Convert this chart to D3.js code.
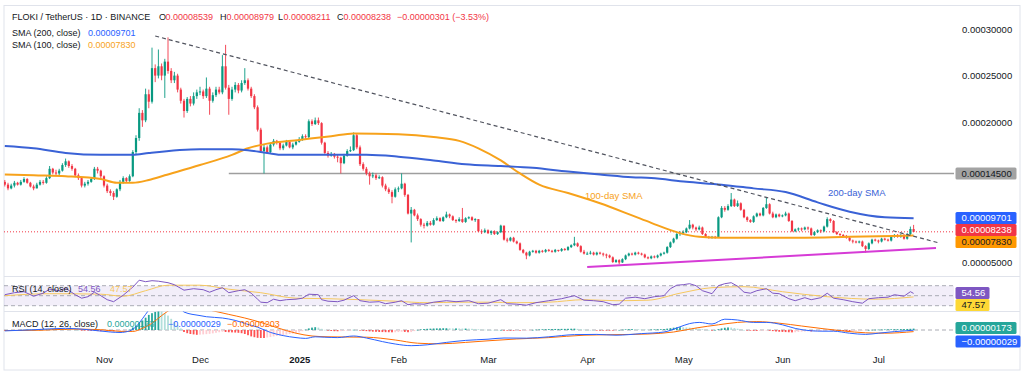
<!DOCTYPE html>
<html>
<head>
<meta charset="utf-8">
<script src="https://cdn.jsdelivr.net/npm/d3@7"></script>
<style>
  html, body { margin: 0; padding: 0; background: #fff; }
  #app { width: 1024px; height: 380px; }
  svg { display: block; font-family: "Liberation Sans", Arial, sans-serif; }
</style>
</head>
<body>
<div id="app"></div>
<script>
// prices in units of 0.00001 USDT, one [high, low, close] per day, open = previous close
const startDate = "2024-10-01";
const firstOpen = 13.6;
const oct = [[13.8,13.1,13.3],[13.5,12.7,12.9],[13.4,12.8,13.2],[13.7,13.0,13.5],[13.6,13.2,13.3],[13.8,13.2,13.6],[14.1,13.5,13.9],[14.0,13.4,13.5],[13.6,13.0,13.1],[13.3,12.7,12.9],[13.5,12.9,13.3],[13.8,13.2,13.6],[13.8,13.3,13.5],[14.2,13.4,14.0],[15.3,13.9,15.0],[15.1,14.4,14.6],[14.9,14.3,14.5],[15.0,14.3,14.8],[15.6,14.7,15.4],[16.1,15.2,15.8],[15.9,15.1,15.3],[15.5,14.8,15.0],[15.1,14.1,14.3],[14.5,13.8,14.0],[14.1,13.0,13.2],[13.6,13.0,13.4],[13.8,13.2,13.6],[14.1,13.5,13.9],[15.2,13.8,15.0],[15.2,14.5,14.8],[14.9,13.9,14.2]];
const nov = [[14.3,13.0,13.2],[13.4,12.4,12.6],[12.8,12.1,12.4],[12.6,11.65,12.0],[12.9,11.9,12.8],[13.8,12.6,13.6],[14.2,13.4,14.0],[14.1,13.5,13.7],[14.4,13.6,14.2],[17.0,14.1,16.8],[18.6,16.5,18.3],[21.5,18.0,21.0],[21.3,19.5,20.2],[23.6,20.0,23.0],[23.5,21.5,22.2],[28.0,22.0,25.8],[26.2,24.3,25.0],[27.8,24.7,26.0],[26.3,24.5,25.0],[26.8,22.6,26.5],[29.1,25.2,25.5],[25.8,24.2,24.5],[25.4,24.2,25.0],[25.2,23.2,23.5],[23.7,22.0,22.3],[22.5,20.5,21.2],[22.7,21.0,22.5],[22.8,21.7,22.0],[23.2,21.8,22.8],[23.5,22.5,23.2]];
const dec = [[23.8,22.9,23.3],[23.5,22.5,22.8],[24.8,22.6,23.6],[23.8,20.8,22.3],[23.2,22.1,22.9],[23.8,22.7,23.5],[23.8,23.0,23.2],[27.2,23.0,26.0],[28.3,23.5,23.7],[24.0,20.8,22.5],[23.8,22.3,23.5],[24.3,23.2,24.0],[24.2,23.1,23.4],[24.5,23.2,24.2],[25.8,24.0,24.5],[24.7,23.4,23.6],[23.8,22.6,22.8],[23.0,21.4,21.6],[21.8,19.0,19.2],[19.4,16.7,16.9],[17.6,14.5,17.3],[17.5,16.6,16.8],[17.8,16.7,17.6],[18.2,17.4,18.0],[18.1,17.6,17.8],[17.9,17.0,17.2],[17.7,17.0,17.5],[18.1,17.4,17.9],[18.0,17.2,17.3],[17.8,17.1,17.6],[18.1,17.5,17.9]];
const jan = [[18.4,17.8,18.2],[18.7,18.0,18.5],[18.7,18.1,18.4],[20.3,18.3,20.1],[20.3,19.6,19.8],[20.5,19.7,20.2],[20.5,19.7,19.9],[20.0,17.6,17.8],[17.9,16.6,16.7],[16.9,16.2,16.4],[16.8,16.3,16.6],[16.7,16.1,16.3],[16.5,15.7,16.2],[16.3,14.5,15.6],[16.6,15.5,16.4],[17.1,16.3,16.9],[17.4,16.8,17.0],[18.9,16.9,18.6],[18.8,17.1,17.3],[17.5,15.3,15.5],[15.7,14.8,15.0],[15.2,14.3,14.5],[14.7,13.3,14.2],[14.6,14.0,14.3],[14.5,13.8,14.0],[14.3,13.9,14.1],[14.2,13.0,13.2],[13.4,12.6,12.8],[13.0,12.3,12.5],[12.7,11.3,12.0],[13.0,11.9,12.8]];
const feb = [[13.1,12.5,12.9],[14.5,12.8,13.4],[13.5,12.0,12.2],[12.3,10.1,10.2],[10.9,7.1,10.6],[10.7,9.9,10.0],[10.2,9.4,9.6],[9.7,8.8,9.0],[9.2,8.6,8.9],[9.4,8.8,9.2],[9.4,8.9,9.0],[9.7,8.9,9.5],[9.9,9.4,9.7],[9.8,9.3,9.4],[9.9,9.3,9.8],[10.4,9.7,10.1],[10.2,9.7,9.9],[10.0,9.4,9.5],[9.6,9.2,9.4],[9.8,9.3,9.6],[10.8,9.2,9.3],[9.8,9.2,9.7],[9.9,9.6,9.8],[9.9,9.4,9.5],[9.7,9.3,9.6],[9.6,8.2,8.3],[8.5,8.0,8.2],[8.6,8.1,8.4]];
const mar = [[8.5,8.0,8.1],[8.4,7.9,8.3],[8.4,7.9,8.0],[8.3,7.9,8.2],[9.0,8.1,8.9],[8.9,7.3,7.4],[7.6,7.1,7.3],[7.7,7.2,7.6],[7.7,7.1,7.2],[7.3,6.9,7.0],[7.1,6.2,6.3],[6.4,5.9,6.0],[6.1,5.3,5.7],[6.2,5.6,6.1],[6.3,6.0,6.2],[6.3,5.9,6.0],[6.3,5.9,6.2],[6.3,6.0,6.1],[6.4,6.0,6.3],[6.4,6.1,6.2],[6.3,6.0,6.1],[6.4,6.0,6.3],[6.3,6.1,6.2],[6.5,6.1,6.4],[6.5,6.2,6.3],[6.7,6.2,6.6],[6.9,6.5,6.8],[7.7,6.7,7.0],[7.1,6.6,6.7],[6.8,6.0,6.1],[6.3,5.8,5.9]];
const apr = [[6.1,5.8,5.9],[6.2,5.8,6.0],[6.1,5.7,5.8],[6.1,5.7,6.0],[6.1,5.8,5.9],[6.0,5.6,5.8],[5.9,5.4,5.7],[5.8,5.4,5.5],[5.6,4.9,5.0],[5.3,4.9,5.2],[5.3,4.75,4.95],[5.4,4.9,5.3],[5.8,5.2,5.7],[6.0,5.6,5.9],[6.0,5.7,5.8],[6.1,5.7,6.0],[6.1,5.8,5.9],[6.0,5.7,5.8],[5.9,5.4,5.5],[5.6,5.3,5.4],[5.7,5.3,5.6],[5.7,5.4,5.5],[5.8,5.4,5.7],[6.0,5.6,5.9],[6.1,5.8,6.0],[6.7,5.9,6.6],[7.2,6.5,7.1],[7.6,7.0,7.5],[8.1,7.4,8.0],[8.3,7.8,8.1]];
const may = [[8.4,7.9,8.2],[8.7,8.1,8.6],[9.5,8.5,9.0],[9.1,8.5,8.7],[8.8,8.3,8.5],[8.9,8.4,8.7],[8.8,7.9,8.0],[8.1,7.6,7.7],[7.8,7.5,7.6],[7.8,7.5,7.7],[7.8,7.5,7.6],[9.9,7.6,9.8],[11.0,9.7,10.8],[11.0,10.4,10.6],[11.2,10.5,11.0],[12.4,10.9,11.7],[11.8,10.9,11.0],[11.6,10.9,11.3],[11.4,10.5,10.6],[10.7,9.7,9.8],[9.9,9.3,9.5],[9.6,9.2,9.3],[10.0,9.2,9.9],[10.3,9.8,10.2],[10.3,9.9,10.0],[10.9,9.9,10.8],[11.9,10.7,11.2],[11.3,10.1,10.2],[10.4,9.7,9.8],[10.2,9.7,10.1],[10.2,9.8,9.9]];
const jun = [[10.1,9.8,10.0],[10.4,9.9,10.2],[10.3,9.3,9.4],[9.5,8.2,8.3],[8.6,8.2,8.5],[8.7,8.3,8.6],[8.7,8.3,8.5],[8.8,8.4,8.7],[8.8,8.4,8.6],[8.7,7.8,7.9],[8.3,7.8,8.2],[8.5,8.1,8.4],[8.5,8.1,8.3],[8.9,8.2,8.8],[9.8,8.7,9.6],[9.7,9.2,9.4],[9.5,8.1,8.2],[8.3,7.9,8.0],[8.1,7.8,7.9],[8.0,7.7,7.8],[7.9,7.5,7.6],[7.7,7.2,7.3],[7.4,7.0,7.2],[7.3,7.0,7.1],[7.3,7.0,7.2],[7.3,6.6,6.7],[6.8,6.0,6.4],[7.1,6.3,7.0],[7.5,6.9,7.4],[7.5,7.2,7.3]];
const jul = [[7.4,7.0,7.2],[7.6,7.1,7.5],[7.6,7.3,7.4],[7.5,7.2,7.3],[7.8,7.2,7.7],[8.0,7.6,7.9],[8.0,7.6,7.7],[8.0,7.6,7.9],[8.0,7.4,7.5],[8.1,7.4,8.0],[8.8,7.9,8.539],[8.979,8.211,8.238]];

// moving averages, same units
const sma200 = [["2024-10-01",17.45],["2024-10-10",17.2],["2024-10-20",16.7],["2024-10-31",16.5],["2024-11-10",16.5],["2024-11-15",16.7],["2024-12-01",17.1],["2024-12-11",17.1],["2024-12-16",17.0],["2024-12-22",16.7],["2024-12-27",16.5],["2025-01-22",16.5],["2025-02-01",16.3],["2025-02-12",15.9],["2025-02-22",15.5],["2025-03-05",15.3],["2025-03-15",15.1],["2025-03-26",14.7],["2025-04-05",14.4],["2025-04-15",14.1],["2025-04-21",14.0],["2025-05-02",13.6],["2025-05-13",13.3],["2025-05-23",12.9],["2025-06-02",12.5],["2025-06-12",11.4],["2025-06-22",10.4],["2025-07-03",9.8],["2025-07-12",9.701]];
const sma100 = [["2024-10-01",14.4],["2024-10-10",14.3],["2024-10-20",14.2],["2024-10-31",13.9],["2024-11-05",13.5],["2024-11-10",13.5],["2024-11-15",13.8],["2024-11-20",14.3],["2024-12-01",15.4],["2024-12-11",16.5],["2024-12-16",17.2],["2024-12-22",17.7],["2025-01-01",18.1],["2025-01-11",18.5],["2025-01-18",18.8],["2025-02-01",18.7],["2025-02-12",18.4],["2025-02-20",18.0],["2025-02-26",17.2],["2025-03-05",15.9],["2025-03-11",14.5],["2025-03-17",13.3],["2025-03-26",12.4],["2025-04-05",11.3],["2025-04-15",10.0],["2025-04-21",9.2],["2025-04-30",8.1],["2025-05-06",7.7],["2025-05-13",7.6],["2025-06-02",7.6],["2025-06-22",7.7],["2025-07-12",7.83]];

// drawn levels
const resistance = [["2024-11-17",29.25],["2025-07-20",7.04]];
const support = [["2025-04-01",4.46],["2025-07-19",6.5]];
const hLevel = {from: "2024-12-10", value: 14.5};
const lastPrice = 8.238;

// RSI (14) and its moving average
const rsi = [["2024-10-01",52],["2024-10-04",56],["2024-10-07",58],["2024-10-10",49],["2024-10-13",55],["2024-10-15",63],["2024-10-18",60],["2024-10-20",65],["2024-10-23",52],["2024-10-25",45],["2024-10-27",48],["2024-10-29",57],["2024-10-31",50],["2024-11-02",42],["2024-11-04",38],["2024-11-07",51],["2024-11-10",67],["2024-11-12",81],["2024-11-14",78],["2024-11-16",80],["2024-11-18",79],["2024-11-21",76],["2024-11-23",72],["2024-11-26",61],["2024-11-29",64],["2024-12-02",62],["2024-12-04",57],["2024-12-06",62],["2024-12-08",66],["2024-12-10",56],["2024-12-13",60],["2024-12-15",62],["2024-12-17",55],["2024-12-19",43],["2024-12-20",37],["2024-12-22",36],["2024-12-24",43],["2024-12-26",40],["2024-12-28",42],["2024-12-31",43],["2025-01-02",45],["2025-01-04",53],["2025-01-07",52],["2025-01-08",42],["2025-01-10",39],["2025-01-13",38],["2025-01-15",41],["2025-01-18",50],["2025-01-20",40],["2025-01-23",37],["2025-01-26",38],["2025-01-28",34],["2025-01-31",37],["2025-02-02",40],["2025-02-04",32],["2025-02-06",34],["2025-02-09",33],["2025-02-12",37],["2025-02-16",40],["2025-02-19",38],["2025-02-23",40],["2025-02-26",34],["2025-03-01",35],["2025-03-05",42],["2025-03-07",34],["2025-03-10",33],["2025-03-13",31],["2025-03-16",36],["2025-03-20",40],["2025-03-24",44],["2025-03-28",50],["2025-03-31",41],["2025-04-03",40],["2025-04-06",38],["2025-04-09",32],["2025-04-11",33],["2025-04-13",45],["2025-04-16",47],["2025-04-19",44],["2025-04-22",48],["2025-04-25",50],["2025-04-27",64],["2025-04-29",71],["2025-05-01",72],["2025-05-03",74],["2025-05-05",70],["2025-05-07",60],["2025-05-10",54],["2025-05-12",70],["2025-05-14",74],["2025-05-16",76],["2025-05-18",69],["2025-05-20",57],["2025-05-22",55],["2025-05-24",60],["2025-05-27",64],["2025-05-29",55],["2025-05-31",54],["2025-06-03",44],["2025-06-05",40],["2025-06-08",46],["2025-06-10",42],["2025-06-13",46],["2025-06-15",55],["2025-06-17",45],["2025-06-20",42],["2025-06-23",38],["2025-06-26",35],["2025-06-28",44],["2025-07-01",46],["2025-07-04",47],["2025-07-06",52],["2025-07-09",49],["2025-07-11",58],["2025-07-12",54.56]];
const rsiMa = [["2024-10-01",50],["2024-10-15",54],["2024-10-31",53],["2024-11-07",49],["2024-11-14",60],["2024-11-21",71],["2024-12-01",71],["2024-12-10",63],["2024-12-20",56],["2024-12-31",45],["2025-01-10",44],["2025-01-20",42],["2025-01-31",39],["2025-02-10",36],["2025-02-20",37],["2025-03-01",37],["2025-03-10",36],["2025-03-20",37],["2025-03-31",42],["2025-04-10",40],["2025-04-20",41],["2025-04-30",55],["2025-05-10",66],["2025-05-20",68],["2025-06-01",58],["2025-06-15",48],["2025-06-30",43],["2025-07-12",47.57]];

// MACD (12, 26) in units of 0.000001
const macdLine = [["2024-10-01",-1.1],["2024-10-10",0.3],["2024-10-20",2.1],["2024-10-27",0.4],["2024-11-03",-2.5],["2024-11-06",-3.1],["2024-11-09",-1.1],["2024-11-11",4.2],["2024-11-13",14],["2024-11-15",25],["2024-11-18",39],["2024-11-21",46],["2024-11-24",34],["2024-11-26",22.5],["2024-12-01",18],["2024-12-03",16.6],["2024-12-08",15],["2024-12-12",12],["2024-12-16",7],["2024-12-19",3.5],["2024-12-23",-3],["2024-12-27",-7],["2024-12-31",-9.5],["2025-01-03",-10.5],["2025-01-06",-8.5],["2025-01-09",-9],["2025-01-13",-9.5],["2025-01-18",-7.5],["2025-01-22",-10],["2025-01-27",-14.5],["2025-01-31",-17.5],["2025-02-05",-19.6],["2025-02-10",-18.5],["2025-02-16",-15.5],["2025-02-22",-13],["2025-03-01",-11.5],["2025-03-06",-10],["2025-03-13",-10.2],["2025-03-20",-8.5],["2025-03-28",-5.8],["2025-04-04",-5.5],["2025-04-10",-6.5],["2025-04-18",-4.5],["2025-04-25",-2.5],["2025-04-30",4],["2025-05-03",8],["2025-05-06",9.5],["2025-05-10",7.5],["2025-05-14",13.5],["2025-05-18",12.5],["2025-05-23",9.5],["2025-05-27",9.5],["2025-06-01",6.5],["2025-06-05",2],["2025-06-10",-1],["2025-06-14",-1.5],["2025-06-17",-1.5],["2025-06-22",-4],["2025-06-27",-5.5],["2025-07-01",-4],["2025-07-06",-2],["2025-07-12",-0.29]];
const signalLine = [["2024-10-01",-0.7],["2024-10-12",-0.3],["2024-10-22",1.1],["2024-10-31",0.4],["2024-11-06",-1.7],["2024-11-10",-1.8],["2024-11-13",2.1],["2024-11-16",8.4],["2024-11-19",18],["2024-11-23",28],["2024-11-27",31],["2024-12-01",28],["2024-12-05",24],["2024-12-10",19.5],["2024-12-15",15],["2024-12-20",9.5],["2024-12-25",3],["2024-12-31",-4],["2025-01-05",-7.5],["2025-01-10",-8.5],["2025-01-16",-8.8],["2025-01-22",-9],["2025-01-31",-12.5],["2025-02-07",-16.5],["2025-02-14",-17.3],["2025-02-22",-15.5],["2025-03-01",-13.5],["2025-03-10",-11.2],["2025-03-20",-9.5],["2025-03-31",-6.5],["2025-04-10",-5.8],["2025-04-20",-5],["2025-04-28",-2.5],["2025-05-05",2.5],["2025-05-12",6.5],["2025-05-18",9.5],["2025-05-24",10.5],["2025-05-31",8.5],["2025-06-07",5],["2025-06-14",1.5],["2025-06-20",-1.2],["2025-06-27",-3.5],["2025-07-03",-4],["2025-07-12",-2.03]];
const histOct = [-0.4,-0.3,-0.3,-0.1,0,0.1,0.3,0.4,0.5,0.6,0.6,0.7,0.8,0.8,0.9,1.0,1.0,1.0,1.0,1.1,0.8,0.6,0.3,0,-0.3,-0.6,-0.7,-1.0,-1.1,-1.4,-1.5];
const histNov = [-1.1,-1.4,-1.7,-1.7,-1.5,-1.4,-0.8,-0.1,0.6,3.2,5.3,8.7,11.9,15.4,18.9,21,22.7,24.4,23.8,21,18,14,10,6,2,-2.5,-4,-5,-5.5,-6];
const histDec = [-5.8,-5.5,-5.2,-4.8,-4.2,-3.5,-2.8,-2.2,-2.5,-2.8,-3,-3.2,-3.5,-4,-5,-6.5,-8,-9,-9.8,-10,-10,-9.4,-8.8,-8,-7.4,-6.8,-6.2,-5.6,-5,-4.5,-4];
const histJan = [-3,-1.5,0.5,2,3,3.5,3,1.5,0.2,-0.8,-1.2,-1.5,-1.6,-1.4,-1,-0.6,-0.2,0.3,0,-0.6,-1,-1.4,-1.8,-2.1,-2.3,-2.5,-2.6,-2.7,-2.8,-2.9,-2.8];
const histFeb = [-2.6,-2.2,-2.4,-2.8,-2.6,-1.4,0.2,0.8,1.2,1.5,1.7,1.9,2.0,2.1,2.2,2.2,2.1,2.0,2.0,1.9,1.8,1.8,1.7,1.5,1.3,0.9,0.6,0.4];
const histMar = [0.3,0.2,0.1,0,0.1,-0.6,-0.8,-0.9,-0.9,-0.8,-0.8,-0.7,-0.5,-0.2,0.2,0.5,0.7,0.9,1.0,1.1,1.2,1.3,1.3,1.4,1.4,1.5,1.6,1.7,1.4,0.9,0.5];
const histApr = [0.3,0.1,0,-0.1,-0.2,-0.3,-0.4,-0.5,-0.6,-0.4,0.1,0.5,0.8,1.0,1.1,1.0,0.9,0.8,0.7,0.6,0.7,0.8,0.9,1.0,1.2,1.7,2.3,2.9,3.3,3.5];
const histMay = [3.4,3.2,3.0,2.6,2.1,1.6,1.0,0.5,0.1,-0.2,0.1,1.0,2.0,2.8,3.2,3.0,2.4,1.6,0.8,0,-0.5,-0.8,-1.0,-1.1,-0.9,-0.7,-0.6,-0.9,-1.4,-1.9,-2.2];
const histJun = [-2.4,-2.6,-2.8,-3.0,-2.8,-2.4,-2.1,-1.9,-1.7,-1.8,-1.7,-1.5,-1.3,-1.0,-0.6,-0.5,-0.7,-0.9,-1.1,-1.2,-1.3,-1.4,-1.3,-1.1,-0.8,-0.5,-0.2,0.1,0.3,0.4];
const histJul = [0.5,0.6,0.7,0.8,0.9,1.0,1.0,1.1,1.2,1.3,1.5,1.73];

// visible price scale labels (0.0001 and 0.00015 sit under the value tags)
const priceTicks = [5, 20, 25, 30];
const monthTicks = ["2024-11-01","2024-12-01","2025-01-01","2025-02-01","2025-03-01","2025-04-01","2025-05-01","2025-06-01","2025-07-01"];


function drawChart(targetDiv) {
  const width = 1024, height = 380;
  const left = 4, right = 954;
  const up = "#089981", down = "#f23645";
  const ink = "#131722";
  const parse = d3.utcParse("%Y-%m-%d");
  const pts = arr => arr.map(([d, v]) => ({date: parse(d), v}));

  const svg = d3.create("svg")
    .attr("width", width)
    .attr("height", height)
    .attr("viewBox", [0, 0, width, height]);

  // candles, opens follow previous close
  const start = parse(startDate);
  let prev = firstOpen;
  const candles = [oct, nov, dec, jan, feb, mar, apr, may, jun, jul].flat().map(([h, l, c], i) => {
    const d = {date: d3.utcDay.offset(start, i), o: prev, h, l, c};
    prev = c;
    return d;
  });
  const hist = [histOct, histNov, histDec, histJan, histFeb, histMar, histApr, histMay, histJun, histJul]
    .flat().map((v, i) => ({date: d3.utcDay.offset(start, i), v}));

  const x = d3.scaleUtc()
    .domain([parse("2024-11-01"), parse("2025-07-01")])
    .range([104, 878.4]);
  const y = d3.scaleLinear().domain([5, 30]).range([262, 29]);
  const yRsi = d3.scaleLinear().domain([30, 70]).range([305.7, 285.7]);
  const yMacd = d3.scaleLinear().domain([0, 10]).range([330, 322]);

  // panes
  const panes = {main: [6, 276.5], rsi: [276.5, 311.5], macd: [311.5, 352]};
  const defs = svg.append("defs");
  Object.entries(panes).forEach(([k, [t, b]]) => {
    defs.append("clipPath").attr("id", "clip-" + k)
      .append("rect").attr("x", left).attr("y", t).attr("width", right - left).attr("height", b - t);
  });

  svg.append("rect").attr("x", left).attr("y", 5.5).attr("width", 1016).attr("height", 364.5)
    .attr("fill", "#fff").attr("stroke", "#e0e3eb");
  [276.5, 311.5].forEach(v => svg.append("line")
    .attr("x1", left).attr("x2", 1020).attr("y1", v).attr("y2", v).attr("stroke", "#e0e3eb"));

  // ---- main pane
  const main = svg.append("g").attr("clip-path", "url(#clip-main)");

  main.append("line")
    .attr("x1", left).attr("x2", right)
    .attr("y1", y(lastPrice)).attr("y2", y(lastPrice))
    .attr("stroke", down).attr("stroke-dasharray", "1,2");

  main.append("line")
    .attr("x1", x(parse(hLevel.from))).attr("x2", right)
    .attr("y1", y(hLevel.value)).attr("y2", y(hLevel.value))
    .attr("stroke", "#9e9e9e").attr("stroke-width", 1.5);

  main.selectAll("line.wick").data(candles).join("line")
    .attr("class", "wick")
    .attr("x1", d => x(d.date)).attr("x2", d => x(d.date))
    .attr("y1", d => y(Math.max(d.h, d.o, d.c))).attr("y2", d => y(Math.min(d.l, d.o, d.c)))
    .attr("stroke", d => d.c >= d.o ? up : down)
    .attr("stroke-width", 0.9);

  main.selectAll("rect.body").data(candles).join("rect")
    .attr("class", "body")
    .attr("x", d => x(d.date) - 1.1)
    .attr("width", 2.2)
    .attr("y", d => y(Math.max(d.o, d.c)))
    .attr("height", d => Math.max(1, Math.abs(y(d.o) - y(d.c))))
    .attr("fill", d => d.c >= d.o ? up : down);

  const line = d3.line().x(d => x(d.date)).y(d => y(d.v)).curve(d3.curveMonotoneX);
  main.append("path").attr("d", line(pts(sma100)))
    .attr("fill", "none").attr("stroke", "#f7a21b").attr("stroke-width", 2);
  main.append("path").attr("d", line(pts(sma200)))
    .attr("fill", "none").attr("stroke", "#3a62d6").attr("stroke-width", 2);

  const straight = d3.line().x(d => x(d.date)).y(d => y(d.v));
  main.append("path").attr("d", straight(pts(resistance)))
    .attr("fill", "none").attr("stroke", "#50535e").attr("stroke-width", 1.2)
    .attr("stroke-dasharray", "4,3");
  main.append("path").attr("d", straight(pts(support)))
    .attr("fill", "none").attr("stroke", "#d63bd6").attr("stroke-width", 2);

  main.append("text").attr("x", 585).attr("y", 199)
    .attr("font-size", 9.5).attr("fill", "#f7a21b").text("100-day SMA");
  main.append("text").attr("x", 828).attr("y", 196)
    .attr("font-size", 9.5).attr("fill", "#3a62d6").text("200-day SMA");

  // ---- RSI pane
  const rp = svg.append("g").attr("clip-path", "url(#clip-rsi)");
  rp.append("rect")
    .attr("x", left).attr("width", right - left)
    .attr("y", yRsi(70)).attr("height", yRsi(30) - yRsi(70))
    .attr("fill", "rgba(126,87,194,0.1)");
  [70, 50, 30].forEach(v => rp.append("line")
    .attr("x1", left).attr("x2", right).attr("y1", yRsi(v)).attr("y2", yRsi(v))
    .attr("stroke", "#9598a1").attr("stroke-dasharray", "4,3").attr("stroke-width", 0.8));
  const rsiPath = d3.line().x(d => x(d.date)).y(d => yRsi(d.v));
  rp.append("path").attr("d", rsiPath.curve(d3.curveMonotoneX)(pts(rsiMa)))
    .attr("fill", "none").attr("stroke", "#f6c85f").attr("stroke-width", 1);
  rp.append("path").attr("d", rsiPath.curve(d3.curveLinear)(pts(rsi)))
    .attr("fill", "none").attr("stroke", "#7e57c2").attr("stroke-width", 1);

  // ---- MACD pane
  const mp = svg.append("g").attr("clip-path", "url(#clip-macd)");
  mp.append("line")
    .attr("x1", left).attr("x2", right).attr("y1", yMacd(0)).attr("y2", yMacd(0))
    .attr("stroke", "#9598a1").attr("stroke-dasharray", "4,3").attr("stroke-width", 0.8);
  mp.selectAll("rect.bar").data(hist).join("rect")
    .attr("class", "bar")
    .attr("x", d => x(d.date) - 0.9)
    .attr("width", 1.8)
    .attr("y", d => Math.min(yMacd(d.v), yMacd(0)))
    .attr("height", d => Math.max(0.6, Math.abs(yMacd(d.v) - yMacd(0))))
    .attr("fill", (d, i) => {
      const p = i > 0 ? hist[i - 1].v : d.v;
      if (d.v >= 0) return d.v >= p ? "#26a69a" : "#b2dfdb";
      return d.v <= p ? "#ff5252" : "#ffcdd2";
    });
  const macdPath = d3.line().x(d => x(d.date)).y(d => yMacd(d.v)).curve(d3.curveMonotoneX);
  mp.append("path").attr("d", macdPath(pts(signalLine)))
    .attr("fill", "none").attr("stroke", "#ff6d00").attr("stroke-width", 1);
  mp.append("path").attr("d", macdPath(pts(macdLine)))
    .attr("fill", "none").attr("stroke", "#2962ff").attr("stroke-width", 1);

  // ---- time axis
  const xAxis = svg.append("g")
    .attr("transform", "translate(0,352)")
    .call(d3.axisBottom(x)
      .tickValues(monthTicks.map(parse))
      .tickSize(0).tickPadding(4)
      .tickFormat(d => d.getUTCMonth() === 0 ? d.getUTCFullYear() : d3.utcFormat("%b")(d)));
  xAxis.select(".domain").remove();
  xAxis.selectAll("text")
    .attr("font-size", 9.5).attr("fill", ink).attr("font-family", "Liberation Sans, Arial, sans-serif")
    .attr("font-weight", d => d.getUTCMonth() === 0 ? "bold" : null);

  // ---- price axis
  const yAxis = svg.append("g")
    .attr("transform", "translate(962,0)")
    .call(d3.axisRight(y).tickValues(priceTicks).tickSize(0).tickPadding(0)
      .tickFormat(v => (v / 1e5).toFixed(8)));
  yAxis.select(".domain").remove();
  yAxis.selectAll("text").attr("font-size", 9.5).attr("fill", ink)
    .attr("font-family", "Liberation Sans, Arial, sans-serif");

  function tag(cy, txt, bg, fg, w) {
    svg.append("rect").attr("x", 955.5).attr("y", cy - 6).attr("width", w).attr("height", 12)
      .attr("rx", 1.5).attr("fill", bg);
    svg.append("text").attr("x", 961.5).attr("y", cy).attr("dy", "0.35em")
      .attr("font-size", 9.5).attr("fill", fg).text(txt);
  }
  tag(y(hLevel.value), "0.00014500", "#a3a3a3", ink, 61);
  tag(218, "0.00009701", "#2962ff", "#fff", 61);
  tag(230, "0.00008238", down, "#fff", 61);
  tag(242, "0.00007830", "#ff9800", ink, 61);
  tag(293, "54.56", "#7e57c2", "#fff", 34);
  tag(305, "47.57", "#fdd835", ink, 34);
  tag(328, "0.00000173", "#26a69a", "#fff", 61);
  tag(341.5, "\u22120.00000029", "#2962ff", "#fff", 65);

  // ---- legends, segments placed where the platform puts them
  function legend(yPos, parts) {
    parts.forEach(([s, c, xPos]) => svg.append("text")
      .attr("x", xPos).attr("y", yPos).attr("font-size", 9).attr("fill", c).text(s));
  }
  legend(20, [
    ["FLOKI / TetherUS \u00b7 1D \u00b7 BINANCE", ink, 12],
    ["O", ink, 159], ["0.00008539", down, 165.5],
    ["H", ink, 220], ["0.00008979", down, 226.5],
    ["L", ink, 278], ["0.00008211", down, 283.5],
    ["C", ink, 337], ["0.00008238", down, 343.5],
    ["\u22120.00000301 (\u22123.53%)", down, 397]
  ]);
  legend(36, [["SMA (200, close)", ink, 12], ["0.00009701", "#2962ff", 88]]);
  legend(48, [["SMA (100, close)", ink, 12], ["0.00007830", "#f7a21b", 88]]);
  legend(291.5, [["RSI (14, close)", ink, 12], ["54.56", "#7e57c2", 78], ["47.57", "#f6c85f", 110]]);
  legend(326.5, [["MACD (12, 26, close)", ink, 12], ["0.00000173", "#26a69a", 107],
    ["\u22120.00000029", "#2962ff", 168], ["\u22120.00000203", "#ff6d00", 227]]);

  d3.select(targetDiv).node().append(svg.node());
}

document.addEventListener("DOMContentLoaded", () => drawChart("#app"));
</script>
</body>
</html>
